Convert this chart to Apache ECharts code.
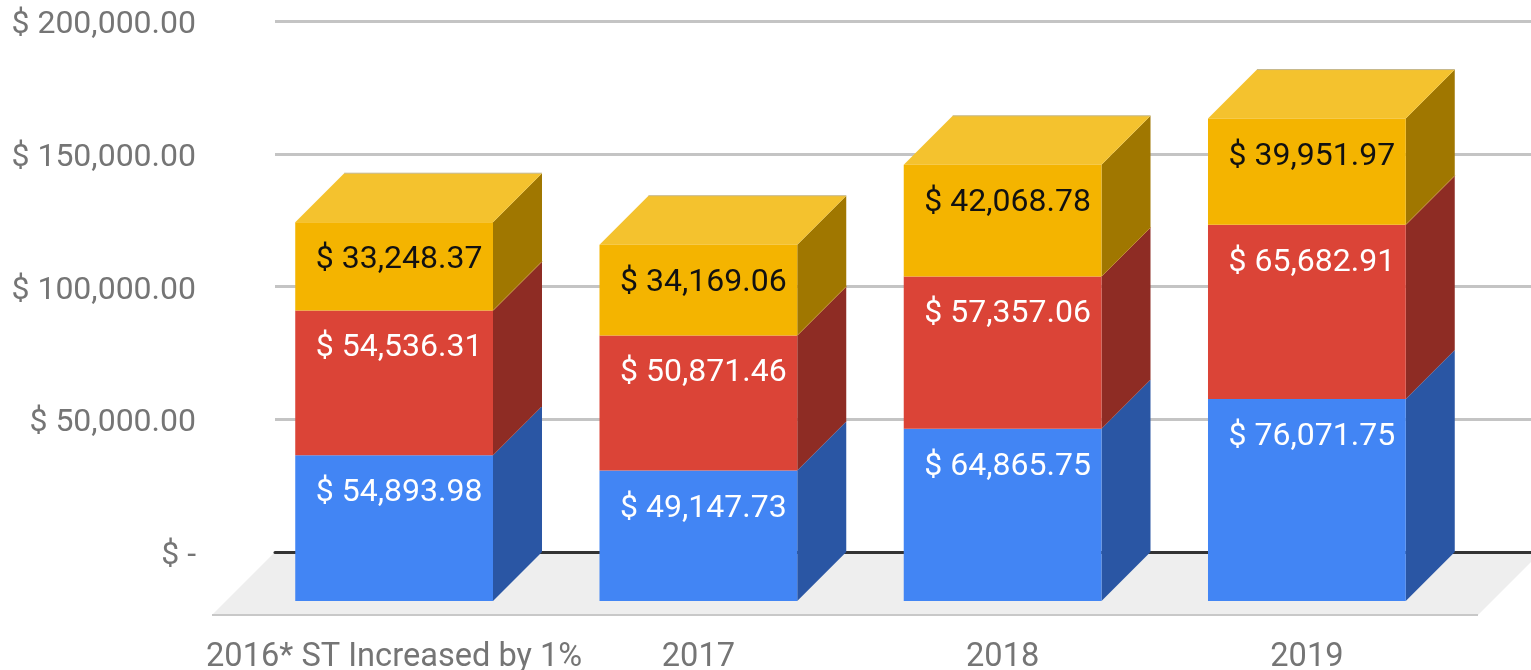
<!DOCTYPE html>
<html>
<head>
<meta charset="utf-8">
<style>html,body{margin:0;padding:0;background:#fff;overflow:hidden}#c{width:1531px;height:670px}</style>
<script src="https://cdn.jsdelivr.net/npm/echarts@6/dist/echarts.min.js"></script>
</head>
<body>
<div id="c"></div>
<script>
const categories = ['2016* ST Increased by 1%', '2017', '2018', '2019'];
const blueValues = [54893.98, 49147.73, 64865.75, 76071.75];
const redValues = [54536.31, 50871.46, 57357.06, 65682.91];
const yellowValues = [33248.37, 34169.06, 42068.78, 39951.97];
const yTickLabels = ['$ -', '$ 50,000.00', '$ 100,000.00', '$ 150,000.00', '$ 200,000.00'];

const layers = [
  {values: blueValues, front: '#4285f4', side: '#2a56a4', text: '#ffffff'},
  {values: redValues, front: '#db4437', side: '#8e2c24', text: '#ffffff'},
  {values: yellowValues, front: '#f4b400', side: '#a07700', text: '#111111'}
];
const topColor = '#f4c22e';
const depth = 49;
const barShare = 0.65;

const fmt = v => '$ ' + v.toLocaleString('en-US', {minimumFractionDigits: 2, maximumFractionDigits: 2});

// one row per visible depth face: category, lower value, upper value, layer
const faceRows = [];
categories.forEach((c, i) => {
  let base = 0;
  layers.forEach((l, k) => {
    faceRows.push([i, base, base + l.values[i], k]);
    base += l.values[i];
  });
});

function renderFaces(params, api) {
  const i = api.value(0), k = api.value(3);
  const low = api.coord([i, api.value(1)]);
  const high = api.coord([i, api.value(2)]);
  const half = api.size([1, 0])[0] * barShare / 2;
  const xr = low[0] + half, xl = low[0] - half;
  const children = [{
    type: 'polygon',
    shape: {points: [[xr, low[1]], [xr + depth, low[1] - depth], [xr + depth, high[1] - depth], [xr, high[1]]]},
    style: {fill: layers[k].side}
  }];
  if (k === layers.length - 1) {
    children.push({
      type: 'polygon',
      shape: {points: [[xl, high[1]], [xl + depth, high[1] - depth], [xr + depth, high[1] - depth], [xr, high[1]]]},
      style: {fill: topColor}
    });
    children.push({
      type: 'polyline',
      shape: {points: [[xl + depth, high[1] - depth], [xr + depth, high[1] - depth]]},
      style: {stroke: '#c4b78c', fill: 'none', lineWidth: 1}
    });
    children.push({
      type: 'polyline',
      shape: {points: [[xr, low[1]], [xr + depth, low[1] - depth]]},
      style: {stroke: '#c08a3a', fill: 'none', lineWidth: 1}
    });
  }
  return {type: 'group', children};
}

function renderFloor(params, api) {
  const cs = params.coordSys;
  const y0 = api.coord([0, 0])[1];
  const drop = 63;
  const xl = cs.x, xr = cs.x + cs.width + 10;
  return {type: 'group', children: [
    {type: 'polygon', shape: {points: [[xl, y0], [xr, y0], [xr - drop, y0 + drop], [xl - drop, y0 + drop]]}, style: {fill: '#eeeeee'}},
    {type: 'line', shape: {x1: xl - drop, y1: y0 + drop, x2: xr - drop, y2: y0 + drop}, style: {stroke: '#c8c8c8', lineWidth: 2}}
  ]};
}

const font = 'Roboto';
const option = {
  animation: false,
  backgroundColor: '#ffffff',
  grid: [
    {left: 275, right: 0, top: 21, height: 531, outerBoundsMode: 'none'},
    {left: 242, width: 1217, top: 70, height: 531, outerBoundsMode: 'none'}
  ],
  xAxis: [
    {type: 'category', gridIndex: 0, data: categories, axisLabel: {show: false}, axisTick: {show: false},
     axisLine: {show: true, lineStyle: {color: '#333333', width: 3}}, splitLine: {show: false}},
    {type: 'category', gridIndex: 1, data: categories, axisTick: {show: false}, axisLine: {show: false},
     axisLabel: {color: '#757575', fontFamily: font, fontSize: 32.6, margin: 40, interval: 0}}
  ],
  yAxis: [
    {type: 'value', gridIndex: 0, min: 0, max: 200000, interval: 50000,
     axisLine: {show: false}, axisTick: {show: false},
     axisLabel: {color: '#757575', fontFamily: font, fontSize: 32, margin: 79, verticalAlign: 'top', lineHeight: 8,
       formatter: (v) => yTickLabels[Math.round(v / 50000)]},
     splitLine: {lineStyle: {color: '#c4c4c4', width: 3}}},
    {type: 'value', gridIndex: 1, min: 0, max: 200000, interval: 50000, show: false, splitLine: {show: false}}
  ],
  series: [
    {type: 'custom', xAxisIndex: 0, yAxisIndex: 0, z: -1, silent: true, renderItem: renderFloor, data: [[0, 0]], clip: false},
    {type: 'custom', xAxisIndex: 1, yAxisIndex: 1, z: 10, silent: true, renderItem: renderFaces, data: faceRows, clip: false,
     encode: {x: 0, y: 2}},
    ...layers.map(l => ({
      type: 'bar', xAxisIndex: 1, yAxisIndex: 1, stack: 'total', z: 12,
      barWidth: (barShare * 100) + '%',
      data: l.values,
      itemStyle: {color: l.front},
      label: {show: true, position: 'insideTop', distance: 22, offset: [5, 0], color: l.text,
        fontFamily: font, fontSize: 32, formatter: p => fmt(p.value)}
    }))
  ]
};
echarts.init(document.getElementById('c'), null, {renderer: 'canvas'}).setOption(option);
</script>
</body>
</html>
